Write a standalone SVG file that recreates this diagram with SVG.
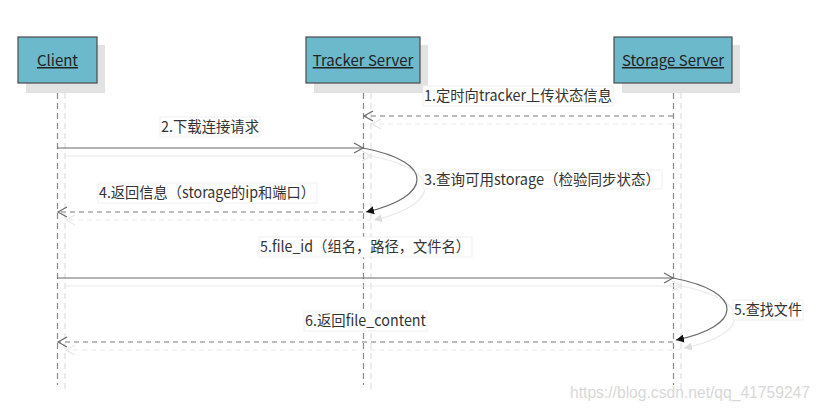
<svg xmlns="http://www.w3.org/2000/svg" width="823" height="410" viewBox="0 0 823 410">
<style>
.box{fill:#6cb9cc;stroke:#4a4a4a;stroke-width:1.2}
.shadow{fill:#e2e2e2}
.name{font-family:"Noto Sans CJK SC","Liberation Sans",sans-serif;font-size:15px;fill:#222;text-anchor:middle;text-decoration:underline}
.life{stroke:#8a8a8a;stroke-width:1.2;stroke-dasharray:6,4;fill:none}
.lifes{stroke:#e0e0e0;stroke-width:1.2;stroke-dasharray:6,4;fill:none}
.msg{stroke:#6a6a6a;stroke-width:1.2;fill:none}
.ret{stroke:#7a7a7a;stroke-width:1.2;stroke-dasharray:5,4;fill:none}
.sh{stroke:#eaeaea;stroke-width:1.2;fill:none}
.shd{stroke:#eaeaea;stroke-width:1.2;stroke-dasharray:5,4;fill:none}
.lbg{fill:#fff;stroke:#efefef;stroke-width:1}
.lbl{font-family:"Noto Sans CJK SC","Liberation Sans",sans-serif;font-size:15px;fill:#333}
.wm{font-family:"Liberation Sans",sans-serif;font-size:16px;fill:#d8d8d8}
</style>
<defs>
<marker id="open" markerWidth="12" markerHeight="12" refX="10" refY="6" orient="auto" markerUnits="userSpaceOnUse">
<path d="M1,1 L10,6 L1,11" fill="none" stroke="#6a6a6a" stroke-width="1.2"/>
</marker>
<marker id="opens" markerWidth="12" markerHeight="12" refX="10" refY="6" orient="auto" markerUnits="userSpaceOnUse">
<path d="M1,1 L10,6 L1,11" fill="none" stroke="#e6e6e6" stroke-width="1.2"/>
</marker>
<marker id="fill" markerWidth="10" markerHeight="10" refX="8" refY="5" orient="auto" markerUnits="userSpaceOnUse">
<path d="M0,1 L8,5 L0,9 Z" fill="#111"/>
</marker>
<marker id="fills" markerWidth="10" markerHeight="10" refX="8" refY="5" orient="auto" markerUnits="userSpaceOnUse">
<path d="M0,1 L8,5 L0,9 Z" fill="#ddd"/>
</marker>
</defs>

<g id="lifelines">
<line class="lifes" x1="65" y1="93" x2="65" y2="390"/>
<line class="lifes" x1="371" y1="93" x2="371" y2="390"/>
<line class="lifes" x1="681" y1="93" x2="681" y2="390"/>
<line class="life" x1="57.5" y1="83" x2="57.5" y2="385"/>
<line class="life" x1="363.5" y1="83" x2="363.5" y2="385"/>
<line class="life" x1="673.5" y1="83" x2="673.5" y2="385"/>
</g>

<g id="client">
<rect class="shadow" x="26" y="45" width="79" height="48"/>
<rect class="box" x="18" y="37" width="79" height="46"/>
<text class="name" x="57.5" y="66">Client</text>
</g>
<g id="tracker">
<rect class="shadow" x="314" y="45" width="114" height="48"/>
<rect class="box" x="306" y="37" width="114" height="46"/>
<text class="name" x="363" y="66">Tracker Server</text>
</g>
<g id="storage">
<rect class="shadow" x="622" y="45" width="118" height="48"/>
<rect class="box" x="614" y="37" width="118" height="46"/>
<text class="name" x="673" y="66">Storage Server</text>
</g>

<g id="connectors">
<line class="shd" x1="681" y1="124" x2="372" y2="124" marker-end="url(#opens)"/>
<line class="sh" x1="65" y1="156" x2="371" y2="156" marker-end="url(#opens)"/>
<path class="sh" d="M371,156 C445,170 440,205 374,220" marker-end="url(#fills)"/>
<line class="shd" x1="371" y1="220" x2="66" y2="220" marker-end="url(#opens)"/>
<line class="sh" x1="65" y1="286" x2="681" y2="286" marker-end="url(#opens)"/>
<path class="sh" d="M681,286 C755,300 750,335 684,348" marker-end="url(#fills)"/>
<line class="shd" x1="681" y1="350" x2="66" y2="350" marker-end="url(#opens)"/>
<line class="ret" x1="673" y1="116" x2="364" y2="116" marker-end="url(#open)"/>
<line class="msg" x1="57" y1="148" x2="363" y2="148" marker-end="url(#open)"/>
<path class="msg" d="M363,148 C437,162 432,197 366,212" marker-end="url(#fill)"/>
<line class="ret" x1="363" y1="212" x2="58" y2="212" marker-end="url(#open)"/>
<line class="msg" x1="57" y1="278" x2="673" y2="278" marker-end="url(#open)"/>
<path class="msg" d="M673,278 C747,292 742,327 676,340" marker-end="url(#fill)"/>
<line class="ret" x1="673" y1="342" x2="58" y2="342" marker-end="url(#open)"/>
</g>

<g id="labels">
<rect class="lbg" x="423" y="86" width="190" height="20"/>
<text class="lbl" x="424" y="101" textLength="188" lengthAdjust="spacingAndGlyphs">1.定时向tracker上传状态信息</text>
<rect class="lbg" x="160" y="117" width="100" height="20"/>
<text class="lbl" x="161" y="132" textLength="98" lengthAdjust="spacingAndGlyphs">2.下载连接请求</text>
<rect class="lbg" x="423" y="170" width="239" height="19"/>
<text class="lbl" x="424" y="185" textLength="236" lengthAdjust="spacingAndGlyphs">3.查询可用storage（检验同步状态）</text>
<rect class="lbg" x="98" y="183" width="219" height="20"/>
<text class="lbl" x="99" y="198" textLength="216" lengthAdjust="spacingAndGlyphs">4.返回信息（storage的ip和端口）</text>
<rect class="lbg" x="259" y="237" width="213" height="20"/>
<text class="lbl" x="260" y="252" textLength="210" lengthAdjust="spacingAndGlyphs">5.file_id（组名，路径，文件名）</text>
<rect class="lbg" x="733" y="300" width="70" height="20"/>
<text class="lbl" x="734" y="315" textLength="68" lengthAdjust="spacingAndGlyphs">5.查找文件</text>
<rect class="lbg" x="304" y="311" width="123" height="20"/>
<text class="lbl" x="305" y="326" textLength="121" lengthAdjust="spacingAndGlyphs">6.返回file_content</text>
</g>
<text class="wm" x="570" y="398" textLength="240" lengthAdjust="spacingAndGlyphs">https://blog.csdn.net/qq_41759247</text>
</svg>
